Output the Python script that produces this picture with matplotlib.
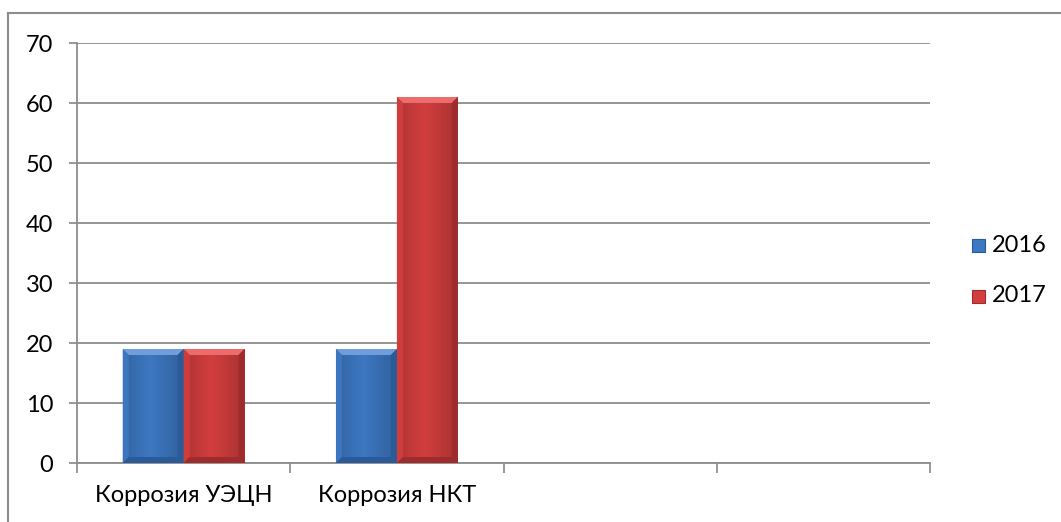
import matplotlib
matplotlib.use("Agg")
import matplotlib.pyplot as plt
import numpy as np
from matplotlib.lines import Line2D
from matplotlib.patches import Polygon, Rectangle

categories = ["Коррозия УЭЦН", "Коррозия НКТ", "", ""]
series_names = ["2016", "2017"]
values_2016 = [19, 19, None, None]
values_2017 = [19, 61, None, None]

face = {"2016": "#3D78C2", "2017": "#D23E3E"}
light = {"2016": "#6E9FDC", "2017": "#EC6C6C"}
dark = {"2016": "#2A5A98", "2017": "#9E2C2C"}

plt.rcParams["font.family"] = ["Lato", "DejaVu Sans"]
FS = 17

fig = plt.figure(figsize=(10.61, 5.22), dpi=100)
ax = fig.add_axes([77 / 1061, 1 - 463 / 522, (930 - 77) / 1061, (463 - 43) / 522])

n = len(categories)
x = np.arange(n)
bar_w = 1 / 3.5  # gap width 150 %


def bevel_bar(ax, x0, w, h, name):
    # base face with a soft horizontal shading
    grad = np.linspace(0, 1, 64)
    shade = 1 - 0.18 * np.abs(grad - 0.45) * 2
    base = np.array(matplotlib.colors.to_rgb(face[name]))
    img = np.clip(base[None, None, :] * shade[None, :, None], 0, 1)
    im = ax.imshow(img, extent=[x0, x0 + w, 0, h], aspect="auto", zorder=3,
                   interpolation="bilinear")
    rect = Rectangle((x0, 0), w, h, transform=ax.transData, facecolor="none",
                     edgecolor="none")
    ax.add_patch(rect)
    im.set_clip_path(rect)
    # bevel size in data units (about 6 px)
    dx = 6 / 213.25
    dy = 1.0
    x1, y1 = x0 + w, h
    ax.add_patch(Polygon([(x0, y1), (x1, y1), (x1 - dx, y1 - dy), (x0 + dx, y1 - dy)],
                         closed=True, facecolor=light[name], edgecolor="none", zorder=4))
    ax.add_patch(Polygon([(x0, 0), (x0, y1), (x0 + dx, y1 - dy), (x0 + dx, dy)],
                         closed=True, facecolor=face[name], edgecolor="none", zorder=4, alpha=0.9))
    ax.add_patch(Polygon([(x1, 0), (x1, y1), (x1 - dx, y1 - dy), (x1 - dx, dy)],
                         closed=True, facecolor=dark[name], edgecolor="none", zorder=4))
    ax.add_patch(Polygon([(x0, 0), (x1, 0), (x1 - dx, dy), (x0 + dx, dy)],
                         closed=True, facecolor=dark[name], edgecolor="none", zorder=4))


for i, (v16, v17) in enumerate(zip(values_2016, values_2017)):
    if v16 is not None:
        bevel_bar(ax, x[i] - bar_w, bar_w, v16, "2016")
    if v17 is not None:
        bevel_bar(ax, x[i], bar_w, v17, "2017")

ax.set_xlim(-0.5, n - 0.5)
ax.set_ylim(0, 70)
ax.set_yticks(np.arange(0, 71, 10))
ax.tick_params(axis="y", length=6, width=1.2, color="#888888", labelsize=FS, pad=11)
ax.set_xticks(x)
ax.set_xticklabels(categories, fontsize=FS)
ax.tick_params(axis="x", length=0, pad=16)
ax.set_xticks(np.arange(n + 1) - 0.5, minor=True)
ax.tick_params(axis="x", which="minor", length=7, width=1.2, color="#888888")
ax.grid(axis="y", color="#8C8C8C", linewidth=1.3, zorder=0)
ax.set_axisbelow(True)
for s in ["top", "right"]:
    ax.spines[s].set_visible(False)
for s in ["left", "bottom"]:
    ax.spines[s].set_color("#8C8C8C")
    ax.spines[s].set_linewidth(1.3)

# legend
for j, name in enumerate(series_names):
    ly = 1 - (245 + 51 * j) / 522
    sq = 13 / 1061
    sqh = 13 / 522
    fig.patches.append(Rectangle((972 / 1061, ly - sqh / 2), sq, sqh,
                                 transform=fig.transFigure, facecolor=face[name],
                                 edgecolor=dark[name], linewidth=0.8))
    fig.text(992 / 1061, ly, name, fontsize=FS, va="center", ha="left")

# outer frame
fig.add_artist(Line2D([8 / 1061, 8 / 1061], [0, 1 - 13 / 522], transform=fig.transFigure,
                      color="#8C8C8C", linewidth=1.5))
fig.add_artist(Line2D([8 / 1061, 1], [1 - 13 / 522, 1 - 13 / 522], transform=fig.transFigure,
                      color="#8C8C8C", linewidth=1.5))

fig.savefig("out.png", dpi=100)
